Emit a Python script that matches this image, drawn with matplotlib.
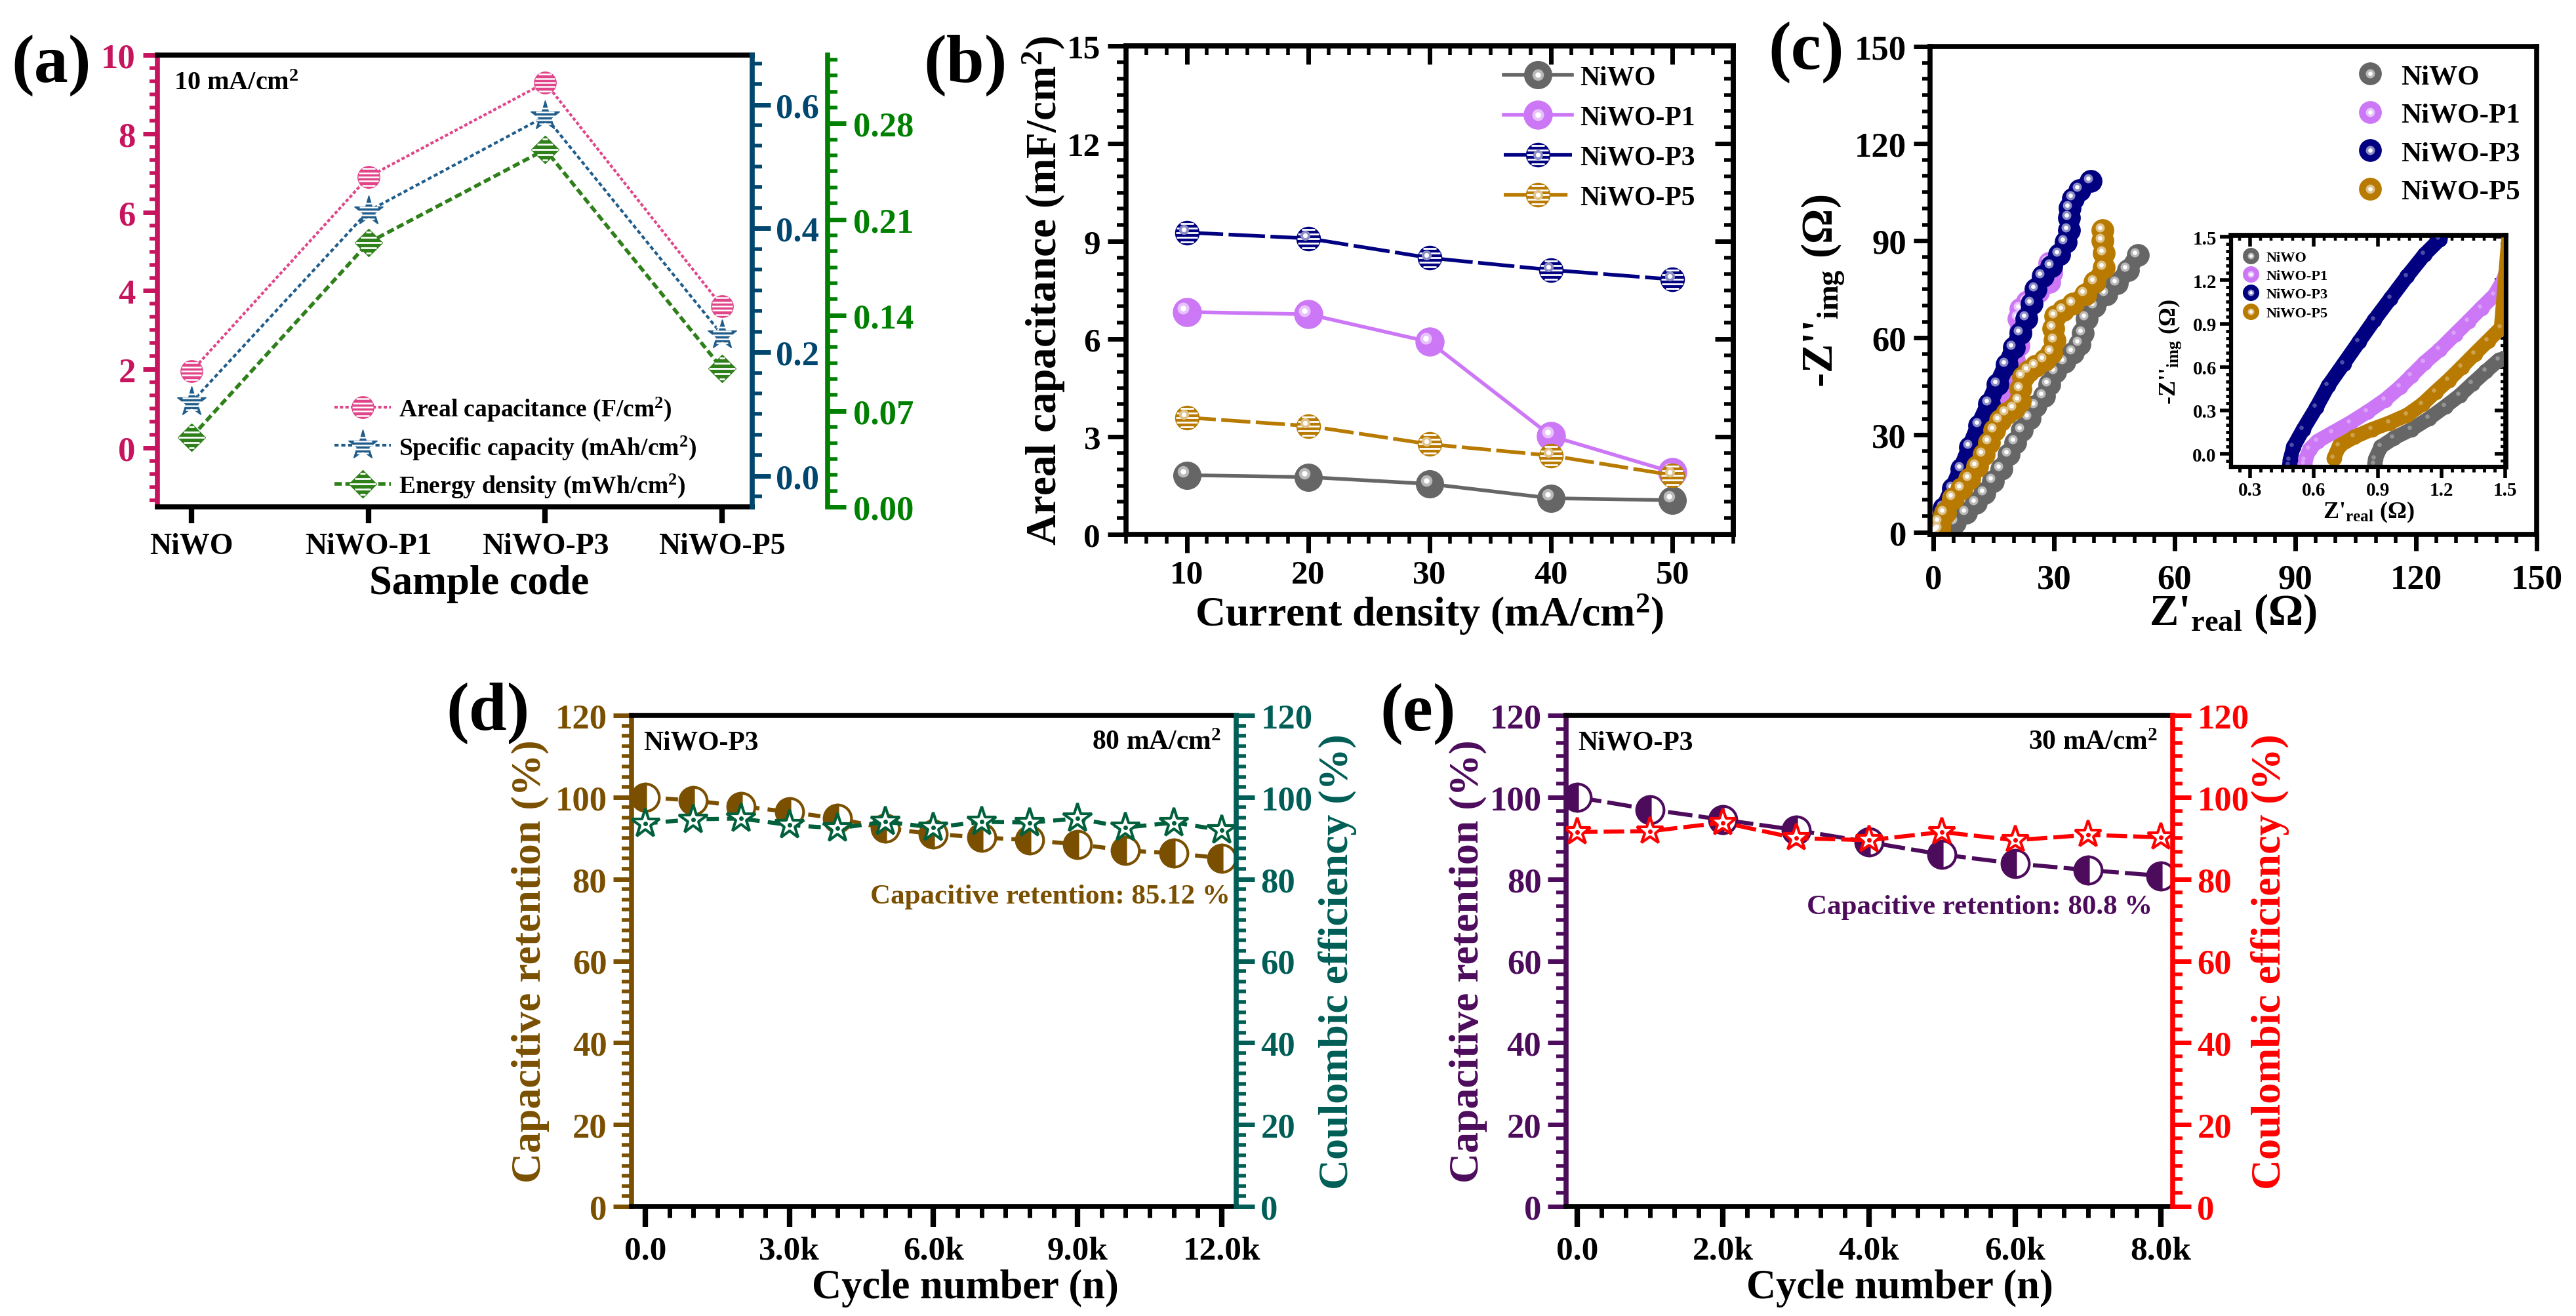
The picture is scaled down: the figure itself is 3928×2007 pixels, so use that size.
import numpy as np
import matplotlib
matplotlib.use('Agg')
import matplotlib.pyplot as plt
from matplotlib.lines import Line2D
from matplotlib.path import Path
from matplotlib.ticker import MultipleLocator, FormatStrFormatter, FuncFormatter, NullFormatter
from matplotlib.transforms import offset_copy
from matplotlib.legend_handler import HandlerTuple

plt.rcParams['font.family'] = ['Liberation Serif', 'DejaVu Serif']
plt.rcParams['font.weight'] = 'bold'
plt.rcParams['axes.labelweight'] = 'bold'
plt.rcParams['mathtext.fontset'] = 'custom'
plt.rcParams['mathtext.rm'] = 'Liberation Serif:bold'
plt.rcParams['mathtext.it'] = 'Liberation Serif:italic:bold'
plt.rcParams['mathtext.bf'] = 'Liberation Serif:bold'
plt.rcParams['axes.linewidth'] = 5.5

# ---------------- data ----------------
# (a) performance at 10 mA/cm2
samples = ['NiWO', 'NiWO-P1', 'NiWO-P3', 'NiWO-P5']
areal_cap = [1.95, 6.9, 9.3, 3.6]
specific_cap = [0.119, 0.428, 0.581, 0.228]
energy_den = [0.051, 0.193, 0.261, 0.101]

# (b) areal capacitance vs current density
current_density = [10, 20, 30, 40, 50]
cap_niwo = [1.82, 1.76, 1.55, 1.11, 1.05]
cap_p1 = [6.83, 6.76, 5.91, 3.02, 1.91]
cap_p3 = [9.27, 9.09, 8.49, 8.12, 7.83]
cap_p5 = [3.59, 3.33, 2.77, 2.42, 1.82]

# (c) Nyquist data (Z'real, -Z''img)
zr_niwo = [0.885, 0.889, 0.915, 0.976, 1.059, 1.141, 1.218, 1.285, 1.346, 1.408, 1.47,
           2.6, 5.4, 8.2, 10.6, 12.8, 14.9, 16.9, 18.8, 20.4, 22.0, 23.9, 25.5, 27.5, 28.8,
           30.4, 32.6, 34.8, 36.4, 37.2, 38.1, 40.2, 43.0, 45.7, 48.4, 50.8]
zi_niwo = [-0.07, -0.034, 0.049, 0.109, 0.17, 0.245, 0.328, 0.404, 0.487, 0.57, 0.65,
           1.0, 3.0, 6.0, 9.0, 12.0, 15.8, 19.5, 24.0, 27.7, 31.5, 35.2, 39.0, 42.0, 45.7,
           49.5, 52.5, 55.5, 58.1, 61.5, 66.0, 69.7, 73.5, 76.8, 81.0, 85.5]
zr_p1 = [0.555, 0.56, 0.581, 0.617, 0.689, 0.771, 0.853, 0.935, 1.007, 1.059, 1.12, 1.192,
         1.264, 1.326, 1.387, 1.449, 1.49,
         2.7, 5.4, 8.2, 10.6, 13.1, 14.7, 16.0, 17.4, 18.8, 20.1, 21.2, 21.7, 21.2, 21.7,
         23.4, 26.1, 28.8, 29.4, 28.8]
zi_p1 = [-0.07, -0.042, 0.034, 0.087, 0.147, 0.215, 0.291, 0.374, 0.464, 0.54, 0.63, 0.721,
         0.827, 0.917, 1.008, 1.098, 1.2,
         6.8, 12.8, 18.8, 24.8, 30.7, 35.2, 39.7, 44.2, 48.7, 53.2, 57.7, 62.2, 66.0, 69.0,
         71.2, 74.2, 77.2, 80.2, 83.2]
zr_p3 = [0.485, 0.488, 0.504, 0.55, 0.612, 0.668, 0.74, 0.812, 0.884, 0.961, 1.038, 1.12,
         1.192,
         2.7, 4.9, 7.0, 9.2, 11.4, 13.9, 16.0, 18.2, 20.0, 21.7, 23.2, 24.5, 25.5, 27.2,
         29.4, 31.3, 32.9, 33.7, 33.8, 34.0, 34.8, 36.4, 39.2]
zi_p3 = [-0.08, -0.042, 0.049, 0.17, 0.321, 0.472, 0.623, 0.774, 0.925, 1.076, 1.227, 1.378,
         1.483,
         7.5, 13.5, 19.5, 26.3, 33.0, 39.7, 45.7, 51.7, 57.0, 61.5, 66.0, 70.5, 75.0, 79.1,
         82.1, 85.8, 89.6, 93.3, 97.1, 100.1, 103.1, 105.7, 108.5]
zr_p5 = [0.694, 0.72, 0.791, 0.874, 0.956, 1.038, 1.11, 1.171, 1.233, 1.295, 1.356, 1.418,
         1.48,
         1.6, 2.9, 4.9, 7.1, 9.0, 10.9, 12.5, 13.9, 15.2, 16.6, 18.2, 20.1, 21.5, 21.7, 22.3,
         23.7, 25.5, 27.7, 29.4, 30.2, 29.9, 30.4, 32.3, 34.8, 37.8, 40.2, 42.4, 42.4, 42.1,
         42.1]
zi_p5 = [-0.03, 0.057, 0.117, 0.17, 0.215, 0.268, 0.343, 0.427, 0.51, 0.6, 0.691, 0.781,
         0.872,
         3.0, 6.0, 10.5, 13.5, 16.5, 20.3, 24.0, 27.7, 31.5, 34.5, 36.7, 38.2, 40.5, 44.2, 48.0,
         49.8, 51.3, 53.2, 55.5, 59.2, 63.0, 66.7, 68.6, 70.5, 73.5, 77.2, 81.7, 86.2, 90.0,
         93.3]

# (d) cycling at 80 mA/cm2
cycles_d = [0, 1000, 2000, 3000, 4000, 5000, 6000, 7000, 8000, 9000, 10000, 11000, 12000]
retention_d = [100, 99.2, 97.8, 96.4, 94.8, 92.4, 91.0, 90.2, 89.5, 88.5, 87.0, 86.3, 85.12]
coulombic_d = [93.6, 94.6, 94.8, 93.2, 92.4, 94.0, 92.6, 94.0, 93.8, 94.8, 92.6, 93.8, 92.0]

# (e) cycling at 30 mA/cm2
cycles_e = [0, 1000, 2000, 3000, 4000, 5000, 6000, 7000, 8000]
retention_e = [100, 97, 94.5, 92, 89, 86, 83.8, 82.2, 80.8]
coulombic_e = [91.5, 91.7, 93.8, 90, 89.5, 91.5, 89.5, 90.8, 90.2]

# ---------------- helpers ----------------
W, H = 3928, 2008
fig = plt.figure(figsize=(W / 100, H / 100), dpi=100)


def box(l, t, r, b):
    return [l / W, 1 - b / H, (r - l) / W, (b - t) / H]


def stripes(kind):
    verts, codes = [], []
    for yv in np.linspace(-0.8, 0.8, 5):
        hw = np.sqrt(1 - yv ** 2) if kind == 'o' else 1 - abs(yv)
        verts += [(-hw, yv), (hw, yv)]
        codes += [Path.MOVETO, Path.LINETO]
    return Path(verts, codes)


STRIPE_O = stripes('o')
STRIPE_D = stripes('D')


def lighten(c, f):
    r, g, b = matplotlib.colors.to_rgb(c)
    return (r + (1 - r) * f, g + (1 - g) * f, b + (1 - b) * f)


def spheres(ax, x, y, color, ms, striped=False, shine=True):
    ax.plot(x, y, ls='none', marker='o', ms=ms, mfc=color, mec=color, mew=1)
    if striped:
        ax.plot(x, y, ls='none', marker=STRIPE_O, ms=ms * 0.95, mfc='none', mec='white', mew=2)
    tr = offset_copy(ax.transData, fig=fig, x=-0.13 * ms, y=0.13 * ms, units='points')
    if shine:
        ax.plot(x, y, ls='none', marker='o', ms=0.42 * ms, mfc=lighten(color, 0.55), mec='none', transform=tr)
        ax.plot(x, y, ls='none', marker='o', ms=0.2 * ms, mfc='white', mec='none', transform=tr)
    else:
        ax.plot(x, y, ls='none', marker='o', ms=0.3 * ms, mfc=lighten(color, 0.3), mec='none', transform=tr)


def sphere_handle(color, ms, line=None, striped=False):
    hs = [] if line is None else [line]
    hs.append(Line2D([], [], ls='none', marker='o', ms=ms, mfc=color, mec=color))
    if striped:
        hs.append(Line2D([], [], ls='none', marker=STRIPE_O, ms=ms * 0.95, mfc='none', mec='white', mew=2))
    hs.append(Line2D([], [], ls='none', marker='o', ms=0.42 * ms, mfc=lighten(color, 0.55), mec='none'))
    hs.append(Line2D([], [], ls='none', marker='o', ms=0.2 * ms, mfc='white', mec='none'))
    return tuple(hs)


def mirror_ticks(ax, xmaj, xmin, ymaj, ymin, lmaj, lmin, width):
    top = ax.secondary_xaxis('top')
    top.xaxis.set_major_locator(MultipleLocator(xmaj))
    top.xaxis.set_minor_locator(MultipleLocator(xmin))
    top.xaxis.set_major_formatter(NullFormatter())
    top.tick_params(which='major', direction='in', length=lmaj, width=width)
    top.tick_params(which='minor', direction='in', length=lmin, width=width * 0.8)
    right = ax.secondary_yaxis('right')
    right.yaxis.set_major_locator(MultipleLocator(ymaj))
    right.yaxis.set_minor_locator(MultipleLocator(ymin))
    right.yaxis.set_major_formatter(NullFormatter())
    right.tick_params(which='major', direction='in', length=lmaj, width=width)
    right.tick_params(which='minor', direction='in', length=lmin, width=width * 0.8)


def kfmt(v, p):
    return '0.0' if abs(v) < 1e-9 else f'{v / 1000:.1f}k'


PANEL_FS = 75
fig.text(17 / W, 1 - 100 / H, '(a)', fontsize=PANEL_FS, va='center', ha='left')
fig.text(1408 / W, 1 - 100 / H, '(b)', fontsize=PANEL_FS, va='center', ha='left')
fig.text(2696 / W, 1 - 80 / H, '(c)', fontsize=PANEL_FS, va='center', ha='left')
fig.text(680 / W, 1 - 1088 / H, '(d)', fontsize=PANEL_FS, va='center', ha='left')
fig.text(2104 / W, 1 - 1089 / H, '(e)', fontsize=PANEL_FS, va='center', ha='left')

# ---------------- (a) ----------------
mag, blu, grn = '#C6145E', '#00466E', '#008000'
pink_c, blue_c, green_c = '#E0458A', '#1F5C8A', '#2F7F1A'
xa = np.arange(len(samples))

ax_a = fig.add_axes(box(240, 85, 1147, 774))
ax_a2 = ax_a.twinx()
ax_a3 = ax_a.twinx()
ax_a.set_xlim(-0.193, 3.17)
ax_a.set_ylim(-1.5, 10)
ax_a2.set_ylim(-0.05, 0.68)
ax_a3.set_ylim(0, 0.33)
ax_a3.spines['right'].set_position(('axes', 1.127))

l1, = ax_a.plot(xa, areal_cap, ls=(0, (1.2, 0.8)), lw=3, color=pink_c, marker='o', ms=24,
                mfc=pink_c, mec=pink_c)
s1, = ax_a.plot(xa, areal_cap, ls='none', marker=STRIPE_O, ms=23, mfc='none', mec='white', mew=1.8)
l2, = ax_a2.plot(xa, specific_cap, ls=(0, (1.5, 1)), lw=3, color=blue_c, marker='*', ms=34,
                 mfc=blue_c, mec=blue_c)
s2, = ax_a2.plot(xa, specific_cap, ls='none', marker=STRIPE_O, ms=22, mfc='none', mec='white', mew=1.8)
l3, = ax_a3.plot(xa, energy_den, ls=(0, (2, 1)), lw=4, color=green_c, marker='D', ms=21,
                 mfc=green_c, mec=green_c)
s3, = ax_a3.plot(xa, energy_den, ls='none', marker=STRIPE_D, ms=29, mfc='none', mec='white', mew=2)

ax_a.set_xticks(xa)
ax_a.set_xticklabels(samples)
ax_a.tick_params(axis='x', direction='out', length=18, width=6, labelsize=33, pad=10, top=False)
ax_a.yaxis.set_major_locator(MultipleLocator(2))
ax_a.yaxis.set_minor_locator(MultipleLocator(1 / 3))
ax_a.tick_params(axis='y', which='major', direction='out', length=16, width=5, color=mag,
                 labelcolor=mag, labelsize=38, pad=8)
ax_a.tick_params(axis='y', which='minor', direction='out', length=9, width=4, color=mag)
ax_a.spines['left'].set_color(mag)
ax_a.spines['right'].set_visible(False)

ax_a2.yaxis.set_major_locator(MultipleLocator(0.2))
ax_a2.yaxis.set_minor_locator(MultipleLocator(0.2 / 6))
ax_a2.yaxis.set_major_formatter(FormatStrFormatter('%.1f'))
ax_a2.tick_params(axis='y', which='major', direction='out', length=20, width=5, color=blu,
                  labelcolor=blu, labelsize=38, pad=6)
ax_a2.tick_params(axis='y', which='minor', direction='out', length=11, width=4, color=blu)
ax_a3.yaxis.set_major_locator(MultipleLocator(0.07))
ax_a3.yaxis.set_minor_locator(MultipleLocator(0.07 / 6))
ax_a3.yaxis.set_major_formatter(FormatStrFormatter('%.2f'))
ax_a3.tick_params(axis='y', which='major', direction='out', length=20, width=5, color=grn,
                  labelcolor=grn, labelsize=38, pad=8)
ax_a3.tick_params(axis='y', which='minor', direction='out', length=11, width=4, color=grn)
for tw, c in ((ax_a2, blu), (ax_a3, grn)):
    for side in ('left', 'top', 'bottom'):
        tw.spines[side].set_visible(False)
    tw.spines['right'].set_color(c)

ax_a.set_xlabel('Sample code', fontsize=45)
ax_a.xaxis.label.set_va('center')
ax_a.xaxis.set_label_coords(0.541, -0.17)
fig.text(265 / W, 1 - 128 / H, '10 mA/cm$^{2}$', fontsize=29, va='center', ha='left')
ax_a3.legend([(l1, s1), (l2, s2), (l3, s3)],
             ['Areal capacitance (F/cm$^{2}$)', 'Specific capacity (mAh/cm$^{2}$)',
              'Energy density (mWh/cm$^{2}$)'],
             handler_map={tuple: HandlerTuple(ndivide=1)},
             loc='upper left', bbox_to_anchor=(510 / W, 1 - 604 / H), bbox_transform=fig.transFigure,
             frameon=False, fontsize=27, handlelength=2.3, handletextpad=0.3, labelspacing=0.45,
             borderpad=0, borderaxespad=0)

# ---------------- (b) ----------------
gray_c, violet_c, navy_c, gold_c = '#666666', '#CC77F5', '#000080', '#B87A00'
ax_b = fig.add_axes(box(1717, 71, 2643, 816))
ax_b.set_xlim(5, 55)
ax_b.set_ylim(0, 15)
series_b = [(cap_niwo, gray_c, '-', 30, False, 'NiWO'),
            (cap_p1, violet_c, '-', 31, False, 'NiWO-P1'),
            (cap_p3, navy_c, (0, (10, 1.5)), 26, True, 'NiWO-P3'),
            (cap_p5, gold_c, (0, (8, 1.5)), 26, True, 'NiWO-P5')]
handles_b, labels_b = [], []
for vals, c, ls, ms, st, lab in series_b:
    ax_b.plot(current_density, vals, ls=ls, lw=4, color=c)
    spheres(ax_b, current_density, vals, c, ms, striped=st)
    handles_b.append(sphere_handle(c, ms, Line2D([], [], ls=ls, lw=4, color=c), striped=st))
    labels_b.append(lab)
ax_b.xaxis.set_major_locator(MultipleLocator(10))
ax_b.xaxis.set_minor_locator(MultipleLocator(10 / 6))
ax_b.yaxis.set_major_locator(MultipleLocator(3))
ax_b.yaxis.set_minor_locator(MultipleLocator(0.5))
ax_b.tick_params(which='major', direction='out', length=20, width=5, labelsize=37)
ax_b.tick_params(which='minor', direction='out', length=10, width=4)
ax_b.tick_params(axis='x', which='major', pad=8)
ax_b.tick_params(axis='y', which='major', pad=8)
mirror_ticks(ax_b, 10, 10 / 6, 3, 0.5, 20, 10, 5)
ax_b.set_xlabel('Current density (mA/cm$^{2}$)', fontsize=46)
ax_b.set_ylabel('Areal capacitance (mF/cm$^{2}$)', fontsize=47)
ax_b.xaxis.label.set_va('center')
ax_b.yaxis.label.set_va('center')
ax_b.xaxis.set_label_coords(0.5, -0.162)
ax_b.yaxis.set_label_coords(-0.136, 0.5)
ax_b.legend(handles_b, labels_b, handler_map={tuple: HandlerTuple(ndivide=1)},
            loc='upper left', bbox_to_anchor=(2293 / W, 1 - 100 / H), bbox_transform=fig.transFigure,
            frameon=False, fontsize=30, handlelength=2.5, handletextpad=0.3, labelspacing=0.55,
            borderpad=0, borderaxespad=0)

# ---------------- (c) ----------------
ax_c = fig.add_axes(box(2943, 72, 3868, 816))
ax_c.set_xlim(-0.8, 150)
ax_c.set_ylim(-0.7, 150)
series_c = [(zr_niwo, zi_niwo, gray_c, 'NiWO'),
            (zr_p1, zi_p1, violet_c, 'NiWO-P1'),
            (zr_p3, zi_p3, navy_c, 'NiWO-P3'),
            (zr_p5, zi_p5, gold_c, 'NiWO-P5')]
for zr, zi, c, lab in series_c:
    ax_c.plot(zr, zi, ls='-', lw=19, color=c, solid_capstyle='round', solid_joinstyle='round')
    spheres(ax_c, zr, zi, c, 24)
ax_c.xaxis.set_major_locator(MultipleLocator(30))
ax_c.xaxis.set_minor_locator(MultipleLocator(5))
ax_c.yaxis.set_major_locator(MultipleLocator(30))
ax_c.yaxis.set_minor_locator(MultipleLocator(5))
ax_c.tick_params(which='major', direction='out', length=18, width=5, labelsize=38, top=False, right=False)
ax_c.tick_params(which='minor', direction='out', length=9, width=4, top=False, right=False)
ax_c.tick_params(axis='x', which='major', pad=14)
ax_c.tick_params(axis='y', which='major', pad=8)
ax_c.set_xlabel("Z'$_{\\mathrm{real}}$ (\u03a9)", fontsize=48)
ax_c.set_ylabel("-Z''$_{\\mathrm{img}}$ (\u03a9)", fontsize=48)
ax_c.xaxis.label.set_va('center')
ax_c.yaxis.label.set_va('center')
ax_c.xaxis.set_label_coords(0.5, -0.162)
ax_c.yaxis.set_label_coords(-0.176, 0.5)
ax_c.legend([sphere_handle(c, 24) for _, _, c, _ in series_c], [s[3] for s in series_c],
            handler_map={tuple: HandlerTuple(ndivide=1)},
            loc='upper left', bbox_to_anchor=(3588 / W, 1 - 98 / H), bbox_transform=fig.transFigure,
            frameon=False, fontsize=31, handlelength=1.2, handletextpad=0.5, labelspacing=0.45,
            borderpad=0, borderaxespad=0)

# inset
ax_i = fig.add_axes(box(3402, 360, 3821, 713))
ax_i.set_xlim(0.211, 1.502)
ax_i.set_ylim(-0.09, 1.51)
for zr, zi, c, lab in series_c:
    ax_i.plot(zr, zi, ls='-', lw=16, color=c, solid_capstyle='round', solid_joinstyle='round')
    spheres(ax_i, zr, zi, c, 16, shine=False)
ax_i.xaxis.set_major_locator(MultipleLocator(0.3))
ax_i.xaxis.set_minor_locator(MultipleLocator(0.05))
ax_i.yaxis.set_major_locator(MultipleLocator(0.3))
ax_i.yaxis.set_minor_locator(MultipleLocator(0.05))
ax_i.xaxis.set_major_formatter(FormatStrFormatter('%.1f'))
ax_i.yaxis.set_major_formatter(FormatStrFormatter('%.1f'))
for sp in ax_i.spines.values():
    sp.set_linewidth(4.5)
ax_i.tick_params(which='major', direction='out', length=12, width=4, labelsize=21, pad=4)
ax_i.tick_params(which='minor', direction='out', length=6, width=3.5)
mirror_ticks(ax_i, 0.3, 0.05, 0.3, 0.05, 12, 6, 4)
ax_i.set_xlabel("Z'$_{\\mathrm{real}}$ (\u03a9)", fontsize=26)
ax_i.set_ylabel("-Z''$_{\\mathrm{img}}$ (\u03a9)", fontsize=26)
ax_i.xaxis.label.set_va('center')
ax_i.yaxis.label.set_va('center')
ax_i.xaxis.set_label_coords(0.5, -0.193)
ax_i.yaxis.set_label_coords(-0.222, 0.5)
ax_i.legend([sphere_handle(c, 17) for _, _, c, _ in series_c], [s[3] for s in series_c],
            handler_map={tuple: HandlerTuple(ndivide=1)},
            loc='upper left', bbox_to_anchor=(3419 / W, 1 - 383 / H), bbox_transform=fig.transFigure,
            frameon=False, fontsize=16, handlelength=1.2, handletextpad=0.45, labelspacing=0.35,
            borderpad=0, borderaxespad=0)


# ---------------- (d) & (e) ----------------
def cycling_panel(rect, cycles, ret, ce, xlim, xmaj, xmin, ymin_step, c_left, c_right, c_star,
                  ls_ret, ls_ce, star_ms, cur_text, ret_text, ret_xy):
    ax = fig.add_axes(rect)
    ax2 = ax.twinx()
    ax.set_xlim(*xlim)
    ax.set_ylim(0, 120)
    ax2.set_ylim(0, 120)
    ax.plot(cycles, ret, ls=ls_ret, lw=4.5, color=c_left, marker='o', ms=30, fillstyle='left',
            mfc=c_left, mfcalt='white', mec=c_left, mew=3)
    ax2.plot(cycles, ce, ls=ls_ce, lw=4.5, color=c_star, marker='*', ms=star_ms, mfc='white',
             mec=c_star, mew=3)
    ax2.plot(cycles, ce, ls='none', marker='o', ms=4, color=c_star)
    ax.xaxis.set_major_locator(MultipleLocator(xmaj))
    ax.xaxis.set_minor_locator(MultipleLocator(xmin))
    ax.xaxis.set_major_formatter(FuncFormatter(kfmt))
    ax.tick_params(axis='x', which='major', direction='out', length=22, width=6, labelsize=37, pad=10,
                   top=False)
    ax.tick_params(axis='x', which='minor', direction='out', length=12, width=5, top=False)
    for a, c in ((ax, c_left), (ax2, c_right)):
        a.yaxis.set_major_locator(MultipleLocator(20))
        a.yaxis.set_minor_locator(MultipleLocator(ymin_step))
        a.tick_params(axis='y', which='major', direction='out', length=20, width=5, color=c,
                      labelcolor=c, labelsize=38, pad=7)
        a.tick_params(axis='y', which='minor', direction='out', length=11, width=4, color=c)
    ax.spines['left'].set_color(c_left)
    ax.spines['right'].set_visible(False)
    for side in ('left', 'top', 'bottom'):
        ax2.spines[side].set_visible(False)
    ax2.spines['right'].set_color(c_right)
    ax.set_xlabel('Cycle number (n)', fontsize=45)
    ax.set_ylabel('Capacitive retention (%)', fontsize=46, color=c_left)
    ax2.set_ylabel('Coulombic efficiency (%)', fontsize=46, color=c_right, rotation=90)
    for lab in (ax.xaxis.label, ax.yaxis.label, ax2.yaxis.label):
        lab.set_va('center')
    ax.text(0.02, 0.945, 'NiWO-P3', transform=ax.transAxes, fontsize=30, ha='left', va='center')
    ax.text(0.975, 0.945, cur_text, transform=ax.transAxes, fontsize=30, ha='right', va='center')
    ax.text(ret_xy[0], ret_xy[1], ret_text, transform=ax.transAxes, fontsize=31, ha='right',
            va='center', color=c_left)
    return ax, ax2


brown_c, teal_c, star_g = '#7A5000', '#005E56', '#00603C'
ax_d, ax_d2 = cycling_panel(box(963, 1092, 1885, 1841), cycles_d, retention_d, coulombic_d,
                            (-285, 12300), 3000, 500, 2.5, brown_c, teal_c, star_g,
                            (0, (3, 2)), (0, (3, 2)), 33, '80 mA/cm$^{2}$',
                            'Capacitive retention: 85.12 %', (0.99, 0.632))
ax_d.xaxis.set_label_coords(0.552, -0.165)
ax_d.yaxis.set_label_coords(-0.1675, 0.5)
ax_d2.yaxis.set_label_coords(1.168, 0.5)

purple_c, red_c = '#4D0B5C', '#FF0000'
ax_e, ax_e2 = cycling_panel(box(2388, 1092, 3313, 1841), cycles_e, retention_e, coulombic_e,
                            (-150, 8160), 2000, 1000 / 3, 20 / 6, purple_c, red_c, red_c,
                            (0, (6, 1.5)), (0, (5, 1.5)), 31, '30 mA/cm$^{2}$',
                            'Capacitive retention: 80.8 %', (0.967, 0.61))
ax_e.xaxis.set_label_coords(0.55, -0.165)
ax_e.yaxis.set_label_coords(-0.1615, 0.5)
ax_e2.yaxis.set_label_coords(1.161, 0.5)

fig.savefig('out.png', dpi=100)
